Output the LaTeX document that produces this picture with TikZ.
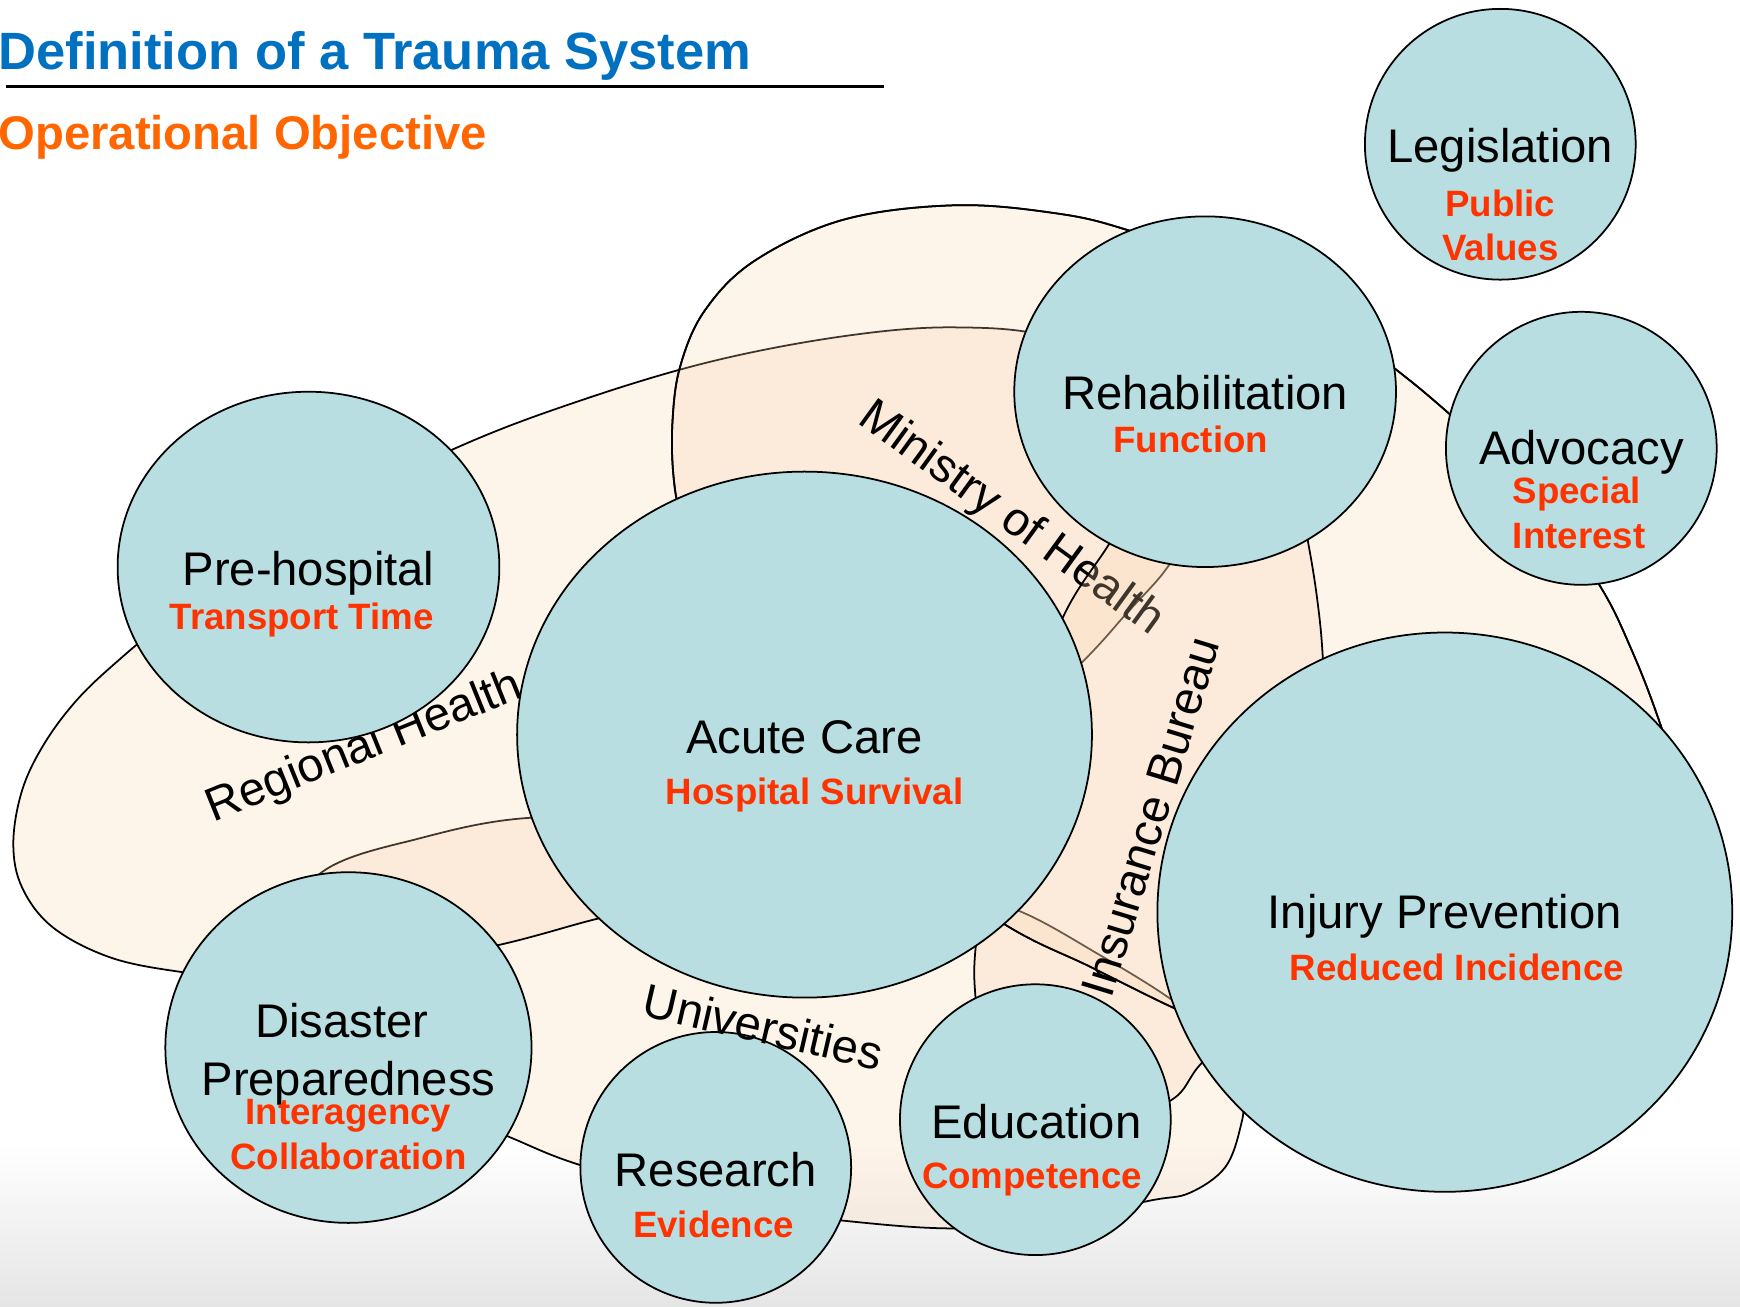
\documentclass[tikz,border=0pt]{standalone}
\usepackage{fontspec}
\setmainfont{Liberation Sans}
\definecolor{tealfill}{RGB}{184,222,225}
\definecolor{peach}{RGB}{251,212,172}
\definecolor{redlab}{RGB}{255,51,0}
\definecolor{titleblue}{RGB}{0,112,192}
\definecolor{suborange}{RGB}{255,102,0}
\definecolor{botgray}{RGB}{229,229,229}
\begin{document}
\begin{tikzpicture}[x=0.1mm,y=-0.1mm,
  band/.style={fill=peach, fill opacity=0.25, draw=black, line width=0.45pt},
  bandline/.style={draw=black, line width=0.45pt},
  circ/.style={fill=tealfill, draw=black, line width=0.45pt},
  lab/.style={font=\fontsize{12.1}{14}\selectfont, inner sep=0pt, text=black},
  sublab/.style={font=\fontsize{9.4}{11}\selectfont\bfseries, inner sep=0pt, text=redlab},
]
\useasboundingbox (0,0) rectangle (1568,1177);
\fill[white] (0,0) rectangle (1568,1177);
\shade[top color=white, bottom color=botgray] (0,1030) rectangle (1568,1177);

% Universities
\path[band] plot[smooth cycle, tension=0.6] coordinates {(290,786) (380,755) (477,737) (600,740) (760,780) (860,805) (921,822) (990,860) (1056,901) (1103,940) (1119,990) (1118,1015) (1104,1052) (1072,1075) (1036,1082) (950,1100) (860,1107) (760,1100) (645,1085) (523,1050) (460,1025) (380,990) (280,930) (250,850)};

% Regional Health
\path[band] plot[smooth cycle, tension=0.6] coordinates {(12,760) (20,712) (40,670) (70,630) (108,594) (150,560) (260,478) (408,405) (520,362) (640,326) (760,303) (860,295) (950,305) (1030,350) (1068,420) (1068,480) (1050,514) (1015,553) (975,597) (880,690) (720,785) (600,815) (538,828) (452,851) (330,876) (230,882) (164,876) (100,863) (48,836) (20,800)};
\node[lab, rotate=22] (rh) at (329,674) {Regional Health};

% Ministry of Health
\path[band] plot[smooth cycle, tension=0.6] coordinates {(607,430) (606,380) (613,330) (635,280) (680,235) (760,198) (860,185) (950,192) (1015,207) (1120,245) (1200,290) (1258,333) (1305,372) (1380,440) (1440,525) (1470,585) (1497,655) (1530,760) (1500,900) (1380,980) (1200,960) (1100,925) (1057,908) (982,871) (907,834) (800,760) (700,640) (640,540) (615,470)};
\node[lab, rotate=-36] (moh) at (911,468) {Ministry of Health};

% Insurance Bureau
\path[band] plot[smooth cycle, tension=0.6] coordinates {(999,491) (1030,440) (1100,420) (1170,450) (1179,490) (1187,540) (1192,592) (1195,680) (1170,850) (1120,920) (1081,960) (1056,991) (1000,1010) (920,990) (885,940) (879,898) (879,856) (890,780) (920,660) (958,556)};
\node[lab, rotate=73] (ib) at (1037,736) {Insurance Bureau};

% Ministry outline on top
\path[bandline] plot[smooth cycle, tension=0.6] coordinates {(607,430) (606,380) (613,330) (635,280) (680,235) (760,198) (860,185) (950,192) (1015,207) (1120,245) (1200,290) (1258,333) (1305,372) (1380,440) (1440,525) (1470,585) (1497,655) (1530,760) (1500,900) (1380,980) (1200,960) (1100,925) (1057,908) (982,871) (907,834) (800,760) (700,640) (640,540) (615,470)};

% circles
\draw[circ] (1352,130) ellipse [x radius=122, y radius=122];
\draw[circ] (1086,353) ellipse [x radius=172, y radius=158];
\draw[circ] (1425,404) ellipse [x radius=122, y radius=123];
\draw[circ] (278,511) ellipse [x radius=172, y radius=158];
\draw[circ] (725,662) ellipse [x radius=259, y radius=237];
\draw[circ] (1302,822) ellipse [x radius=259, y radius=252];
\draw[circ] (314,944) ellipse [x radius=165, y radius=158];
\draw[circ] (645,1052) ellipse [x radius=122, y radius=122];
\draw[circ] (933,1009) ellipse [x radius=122, y radius=122];

% circle labels
\node[lab, anchor=base] (leg) at (1352,146) {Legislation};
\node[sublab, anchor=base] (legA) at (1352,195) {Public};
\node[sublab, anchor=base] (legB) at (1352,235) {Values};
\node[lab, anchor=base] (reh) at (1086,369) {Rehabilitation};
\node[sublab, anchor=base] (rehA) at (1073,408) {Function};
\node[lab, anchor=base] (adv) at (1425,419) {Advocacy};
\node[sublab, anchor=base] (advA) at (1421,454) {Special};
\node[sublab, anchor=base] (advB) at (1423,494) {Interest};
\node[lab, anchor=base] (pre) at (278,528) {Pre-hospital};
\node[sublab, anchor=base] (preA) at (272,567) {Transport Time};
\node[lab, anchor=base] (acu) at (725,679) {Acute Care};
\node[sublab, anchor=base] (acuA) at (734,725) {Hospital Survival};
\node[lab, anchor=base] (inj) at (1302,837) {Injury Prevention};
\node[sublab, anchor=base] (injA) at (1313,884) {Reduced Incidence};
\node[lab, anchor=base] (dis) at (308,935) {Disaster};
\node[lab, anchor=base] (disB) at (314,987) {Preparedness};
\node[sublab, anchor=base] (disA) at (314,1013) {Interagency};
\node[sublab, anchor=base] (disC) at (314,1054) {Collaboration};
\node[lab, anchor=base] (res) at (645,1069) {Research};
\node[sublab, anchor=base] (resA) at (643,1115) {Evidence};
\node[lab, anchor=base] (edu) at (934,1026) {Education};
\node[sublab, anchor=base] (eduA) at (930,1071) {Competence};

\node[lab, rotate=-13] (uni) at (688,925) {Universities};

% titles
\node[font=\fontsize{13.46}{16}\selectfont\bfseries, text=titleblue, inner sep=0pt, anchor=base west] (title) at (-2,62.5) {Definition of a Trauma System};
\draw[line width=0.85pt] (5,78) -- (797,78);
\node[font=\fontsize{12.11}{14}\selectfont\bfseries, text=suborange, inner sep=0pt, anchor=base west] (subtitle) at (-2,135) {Operational Objective};
\end{tikzpicture}
\end{document}
